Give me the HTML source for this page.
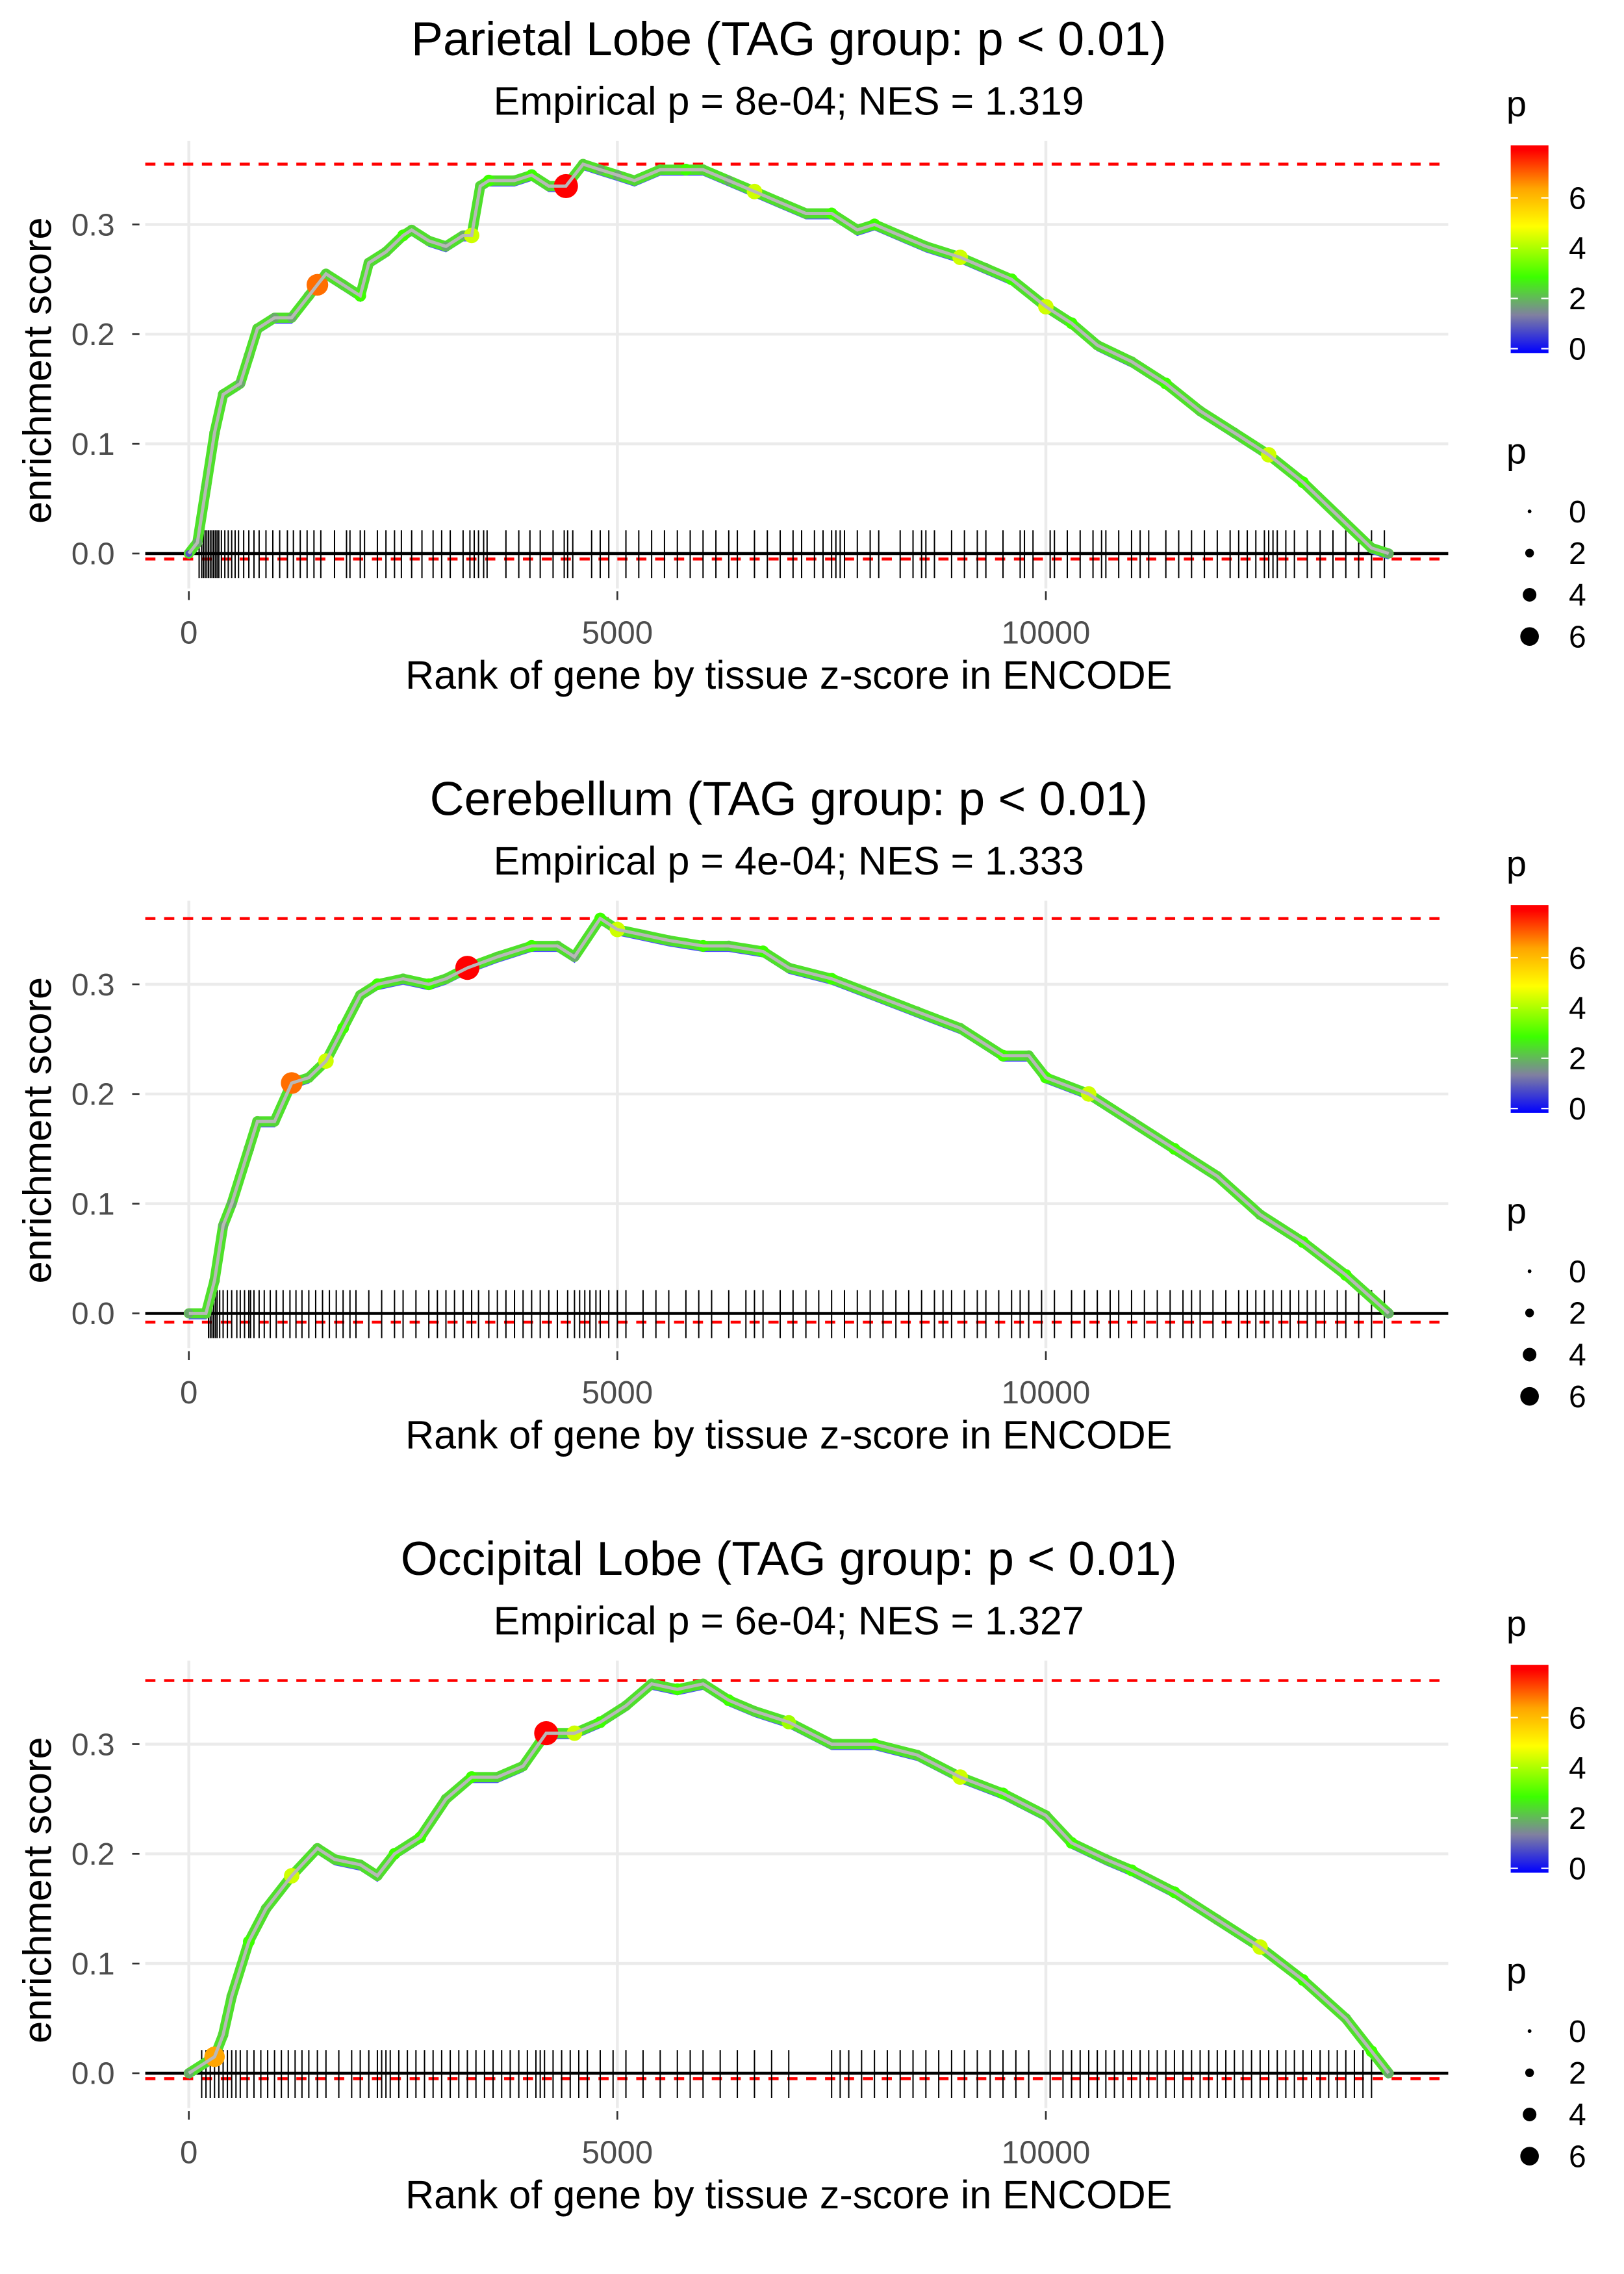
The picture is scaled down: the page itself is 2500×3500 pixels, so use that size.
<!DOCTYPE html>
<html><head><meta charset="utf-8"><title>Enrichment plots</title>
<style>
html,body{margin:0;padding:0;background:#fff;}
svg{display:block;font-family:"Liberation Sans",Arial,sans-serif;}
</style></head>
<body>
<svg id="chart" width="2500" height="3500" viewBox="0 0 1118 1565.2" xmlns="http://www.w3.org/2000/svg"></svg>
<script>
// ---- data ----
const panelTitles = ["Parietal Lobe (TAG group: p < 0.01)", "Cerebellum (TAG group: p < 0.01)", "Occipital Lobe (TAG group: p < 0.01)"];
const panelSubtitles = ["Empirical p = 8e-04; NES = 1.319", "Empirical p = 4e-04; NES = 1.333", "Empirical p = 6e-04; NES = 1.327"];
const xTicks = [0, 5000, 10000];
const yTicks = [0.0, 0.1, 0.2, 0.3];
const yTickLabels = ["0.0", "0.1", "0.2", "0.3"];
const colorTicks = [0, 2, 4, 6];
const sizeTicks = [0, 2, 4, 6];
const esMax = [0.355, 0.36, 0.358];
const esMin = [-0.005, -0.008, -0.005];

const rank1 = [0,100,200,300,400,600,700,800,1000,1200,1400,1500,1600,1800,2000,2100,2300,2500,2600,2800,3000,3200,3300,3400,3500,3800,4000,4200,4400,4600,4800,5000,5200,5500,5800,6000,6300,6600,6900,7200,7500,7800,8000,8300,8600,9000,9300,9600,10000,10300,10600,11000,11400,11800,12200,12600,13000,13400,13800,14000];
const es1 = [0,0.01,0.06,0.11,0.145,0.155,0.18,0.205,0.215,0.215,0.235,0.245,0.255,0.245,0.235,0.265,0.275,0.29,0.295,0.285,0.28,0.29,0.29,0.335,0.34,0.34,0.345,0.335,0.335,0.355,0.35,0.345,0.34,0.35,0.35,0.35,0.34,0.33,0.32,0.31,0.31,0.295,0.3,0.29,0.28,0.27,0.26,0.25,0.225,0.21,0.19,0.175,0.155,0.13,0.11,0.09,0.065,0.035,0.005,0];
const p1 = [1,2,2.5,2.5,2.5,2,2.5,2.5,2,2,2.5,7,2.5,2.5,3,2.5,2.5,3,2.5,2.5,2,2,4.5,2.5,3,2.5,3,2.5,8,2.5,2,2,2.5,2.5,3,2.5,2,4.5,2.5,2.5,3,2.5,3,2.5,2.5,4.5,2.5,3,4.5,3,2.5,2.5,3,2.5,2.5,4.5,3,2.5,2.5,2];
const rug1 = [120,150,170,190,210,230,250,270,290,310,330,350,380,420,460,500,540,580,640,700,760,820,900,980,1060,1150,1220,1300,1380,1460,1540,1700,1840,1880,2000,2050,2200,2300,2400,2480,2600,2720,2850,2950,3050,3200,3280,3330,3380,3440,3480,3700,3850,3980,4100,4250,4380,4420,4480,4700,4800,4900,5100,5250,5400,5550,5700,5850,6000,6150,6300,6400,6600,6750,6900,7050,7150,7300,7400,7500,7550,7600,7650,7800,7950,8050,8300,8450,8550,8600,8700,8900,9050,9200,9300,9500,9700,9750,9850,10050,10100,10250,10400,10550,10650,10700,10850,11000,11100,11200,11400,11550,11700,11850,12000,12150,12250,12350,12450,12550,12600,12650,12700,12800,12900,13050,13200,13350,13500,13650,13800,13950];

const rank2 = [0,200,300,400,500,700,800,1000,1200,1400,1600,1800,2000,2200,2500,2800,3000,3250,3600,4000,4300,4500,4800,5000,5300,5600,6000,6300,6700,7000,7500,8000,8500,9000,9500,9800,10000,10500,11000,11500,12000,12500,13000,13500,14000];
const es2 = [0,0,0.03,0.08,0.1,0.15,0.175,0.175,0.21,0.215,0.23,0.26,0.29,0.3,0.305,0.3,0.305,0.315,0.325,0.335,0.335,0.325,0.36,0.35,0.345,0.34,0.335,0.335,0.33,0.315,0.305,0.29,0.275,0.26,0.235,0.235,0.215,0.2,0.175,0.15,0.125,0.09,0.065,0.035,0];
const p2 = [2,2.5,2.5,2,2,2.5,2.5,2.5,7,2.5,4.5,3,2.5,3,2.5,3,2.5,8,2.5,3,2.5,2,3,4.5,2.5,2.5,3,2.5,3,2.5,3,2.5,2.5,2.5,3,2.5,3,4.5,2.5,3,2.5,2.5,3,3,2];
const rug2 = [230,250,270,290,310,330,360,400,450,500,560,600,650,700,720,760,820,880,950,1020,1100,1180,1250,1320,1400,1480,1560,1640,1720,1800,1880,1950,2100,2250,2400,2500,2650,2800,2900,3000,3100,3200,3300,3380,3500,3600,3700,3800,3900,4000,4100,4200,4300,4420,4500,4560,4620,4680,4750,4800,4900,5000,5100,5300,5450,5600,5800,5950,6100,6300,6500,6600,6700,6900,7050,7200,7350,7500,7650,7800,7950,8100,8250,8400,8550,8700,8800,8900,9050,9200,9300,9450,9600,9700,9800,9950,10100,10300,10450,10600,10750,10850,11000,11150,11300,11450,11600,11700,11800,11950,12100,12250,12350,12450,12550,12650,12750,12850,12950,13050,13150,13250,13400,13500,13650,13800,13950];

const rank3 = [0,300,400,500,700,900,1200,1500,1700,2000,2200,2400,2700,3000,3300,3600,3900,4170,4500,4800,5100,5400,5700,6000,6300,6600,7000,7500,8000,8500,9000,9500,10000,10300,10700,11000,11500,12000,12500,13000,13500,13800,14000];
const es3 = [0,0.015,0.035,0.07,0.12,0.15,0.18,0.205,0.195,0.19,0.18,0.2,0.215,0.25,0.27,0.27,0.28,0.31,0.31,0.32,0.335,0.355,0.35,0.355,0.34,0.33,0.32,0.3,0.3,0.29,0.27,0.255,0.235,0.21,0.195,0.185,0.165,0.14,0.115,0.085,0.05,0.02,0];
const p3 = [2,6.5,2.5,2.5,3,2.5,4.5,2.5,2.5,2.5,2.5,3,3,2.5,3,2.5,2.5,8,4.5,3,2.5,2.5,3,2.5,3,2.5,4,2.5,3,2.5,4.5,3,2.5,3,2.5,3,3,2.5,4.5,3,2.5,3,2];
const rug3 = [150,200,250,300,350,400,450,500,550,600,680,760,840,920,1000,1080,1160,1240,1320,1400,1500,1600,1750,1900,2000,2100,2200,2250,2300,2350,2450,2550,2650,2750,2850,2950,3050,3150,3250,3350,3450,3550,3650,3750,3850,3950,4050,4100,4150,4250,4350,4450,4550,4650,4800,4950,5100,5300,5500,5700,5850,6000,6200,6400,6600,6800,7000,7500,7600,7700,7850,8000,8150,8300,8450,8600,8750,8900,9050,9200,9350,9500,9650,9800,10050,10200,10300,10400,10500,10600,10700,10800,10900,11000,11100,11200,11300,11400,11500,11600,11700,11800,11900,12000,12100,12200,12300,12400,12500,12600,12700,12800,12900,13000,13100,13200,13300,13400,13500,13600,13700,13800];

const ranks = [rank1, rank2, rank3];
const esVals = [es1, es2, es3];
const pVals = [p1, p2, p3];
const rugs = [rug1, rug2, rug3];

// ---- drawing ----
const NS = "http://www.w3.org/2000/svg";
const svg = document.getElementById("chart");
function mk(tag, attrs, parent) {
  const e = document.createElementNS(NS, tag);
  for (const k in attrs) e.setAttribute(k, attrs[k]);
  (parent || svg).appendChild(e);
  return e;
}
function txt(s, attrs, parent) { const e = mk("text", attrs, parent); e.textContent = s; return e; }

function pColor(p) {
  const stops = [[0,[0,0,255]],[1.5,[128,128,160]],[3,[60,255,0]],[5,[255,255,0]],[6.5,[255,165,0]],[8,[255,0,0]]];
  for (let i = 0; i < stops.length - 1; i++) {
    const [a, ca] = stops[i], [b, cb] = stops[i+1];
    if (p <= b) { const t = Math.max(0, (p - a) / (b - a)); return "rgb(" + ca.map((c, j) => Math.round(c + (cb[j] - c) * t)).join(",") + ")"; }
  }
  return "rgb(255,0,0)";
}
function pRadius(p) { return 1.5 + Math.max(p, 0) * 0.85; }

const PANEL_DY = 523;
const X0 = 130, XPER = 0.059;
const Y0 = 381, YPER = 755;
const PL = 100, PR = 997;

for (let k = 0; k < 3; k++) {
  const oy = k * PANEL_DY;
  const xs = r => X0 + r * XPER;
  const ys = v => oy + Y0 - v * YPER;
  const g = mk("g", {});
  
  

  const t = txt(panelTitles[k], {x: 543, y: oy + 38, "font-size": 32.8, "text-anchor": "middle", fill: "#000"}, g);
  
  
  const st = txt(panelSubtitles[k], {x: 543, y: oy + 79, "font-size": 27.3, "text-anchor": "middle", fill: "#000"}, g);
  
  

  for (const v of yTicks) {
    const l = mk("line", {x1: PL, x2: PR, y1: ys(v), y2: ys(v), stroke: "#ebebeb", "stroke-width": 2}, g);
    
    
  }
  for (const r of xTicks) {
    const l = mk("line", {x1: xs(r), x2: xs(r), y1: oy + 97, y2: oy + 405, stroke: "#ebebeb", "stroke-width": 2}, g);
    
    
  }
  yTicks.forEach((v, i) => {
    const tk = mk("line", {x1: 91, x2: 96, y1: ys(v), y2: ys(v), stroke: "#333", "stroke-width": 1.2}, g);
    
    
    const lb = txt(yTickLabels[i], {x: 79, y: ys(v) + 7.5, "font-size": 21.5, "text-anchor": "end", fill: "#4d4d4d"}, g);
    
    
  });
  xTicks.forEach(r => {
    const tk = mk("line", {x1: xs(r), x2: xs(r), y1: oy + 407, y2: oy + 413, stroke: "#333", "stroke-width": 1.2}, g);
    
    
    const lb = txt(String(r), {x: xs(r), y: oy + 443, "font-size": 22, "text-anchor": "middle", fill: "#4d4d4d"}, g);
    
    
  });
  const xt = txt("Rank of gene by tissue z-score in ENCODE", {x: 543, y: oy + 474, "font-size": 27.3, "text-anchor": "middle", fill: "#000"}, g);
  
  
  const yt = txt("enrichment score", {x: 0, y: 0, "font-size": 27.5, "text-anchor": "middle", fill: "#000", transform: "translate(35," + (oy + 255) + ") rotate(-90)"}, g);
  
  

  const dTop = mk("line", {x1: PL, x2: PR, y1: ys(esMax[k]), y2: ys(esMax[k]), stroke: "#ff0000", "stroke-width": 2, "stroke-dasharray": "7,6"}, g);
  
  
  const dBot = mk("line", {x1: PL, x2: PR, y1: ys(esMin[k]), y2: ys(esMin[k]), stroke: "#ff0000", "stroke-width": 2, "stroke-dasharray": "7,6"}, g);
  
  

  const rugG = mk("g", {stroke: "#000", "stroke-width": 0.9}, g);
  
  
  rugs[k].forEach(r => {
    const l = mk("line", {x1: xs(r), x2: xs(r), y1: oy + 365, y2: oy + 398}, rugG);
    
    
  });
  const zl = mk("line", {x1: PL, x2: PR, y1: ys(0), y2: ys(0), stroke: "#000", "stroke-width": 2}, g);
  
  

  const pts = ranks[k].map((r, i) => xs(r).toFixed(1) + "," + ys(esVals[k][i]).toFixed(1)).join(" ");
  const shadow = mk("polyline", {points: pts, fill: "none", stroke: "#5050ff", "stroke-width": 1.2, transform: "translate(0,3.5)"}, g);
  
  
  const band = mk("polyline", {points: pts, fill: "none", stroke: "#4ee02a", "stroke-width": 7, "stroke-linejoin": "round", "stroke-linecap": "round"}, g);
  
  
  const pg = mk("g", {}, g);
  
  
  ranks[k].forEach((r, i) => {
    const p = pVals[k][i];
    const c = mk("circle", {cx: xs(r), cy: ys(esVals[k][i]), r: pRadius(p), fill: pColor(p)}, pg);
    
    
  });
  const line = mk("polyline", {points: pts, fill: "none", stroke: "#b8b8b8", "stroke-width": 2.2}, g);
  
  

  const defs = mk("defs", {}, g);
  const grad = mk("linearGradient", {id: "grad" + k, x1: 0, y1: 1, x2: 0, y2: 0}, defs);
  [0, 1.5, 3, 5, 6.5, 8].forEach(p => mk("stop", {offset: p / 8.2, "stop-color": pColor(p)}, grad));
  mk("stop", {offset: 1, "stop-color": pColor(8)}, grad);
  const lg = mk("g", {}, g);
  
  
  txt("p", {x: 1037, y: oy + 80, "font-size": 25, fill: "#000"}, lg);
  const cbTop = oy + 100, cbBot = oy + 243;
  const cy = v => oy + 240 - v * 17.3;
  const bar = mk("rect", {x: 1040, y: cbTop, width: 26, height: cbBot - cbTop, fill: "url(#grad" + k + ")"}, lg);
  
  
  colorTicks.forEach(v => {
    mk("line", {x1: 1040, x2: 1045, y1: cy(v), y2: cy(v), stroke: "#fff", "stroke-width": 1}, lg);
    mk("line", {x1: 1061, x2: 1066, y1: cy(v), y2: cy(v), stroke: "#fff", "stroke-width": 1}, lg);
    txt(String(v), {x: 1080, y: cy(v) + 7.5, "font-size": 21.5, fill: "#000"}, lg);
  });
  const sg = mk("g", {}, g);
  
  
  txt("p", {x: 1037, y: oy + 319, "font-size": 25, fill: "#000"}, sg);
  sizeTicks.forEach((v, i) => {
    const yy = oy + 352 + i * 28.7;
    mk("circle", {cx: 1053, cy: yy, r: 1.3 + v * 0.85, fill: "#000"}, sg);
    txt(String(v), {x: 1080, y: yy + 7.5, "font-size": 21.5, fill: "#000"}, sg);
  });
}
</script>
</body></html>
